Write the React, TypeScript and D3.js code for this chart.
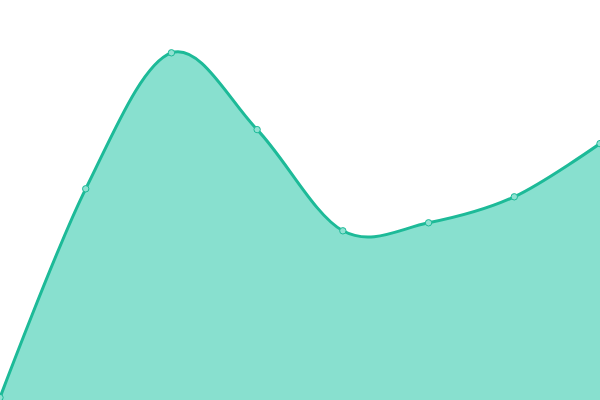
import React from "react";
import * as d3 from "d3";

const categories = ["A", "B", "C", "D", "E", "F", "G", "H"];
const values = [0.6, 52.8, 86.8, 67.6, 42.3, 44.3, 50.8, 64.1];

const W = 600;
const H = 400;

export default function App() {
  const x = d3.scalePoint<string>().domain(categories).range([0, W]);
  const y = d3.scaleLinear().domain([0, 100]).range([H, 0]);
  const data = categories.map((c, i) => ({ c, v: values[i] }));
  const curve = d3.curveCardinal.tension(0);
  const area = d3
    .area<{ c: string; v: number }>()
    .x((d) => x(d.c)!)
    .y0(H)
    .y1((d) => y(d.v))
    .curve(curve);
  const line = d3
    .line<{ c: string; v: number }>()
    .x((d) => x(d.c)!)
    .y((d) => y(d.v))
    .curve(curve);
  return (
    <svg
      width={W}
      height={H}
      style={{ position: "absolute", left: 0, top: 0, display: "block" }}
    >
      <rect width={W} height={H} fill="#ffffff" />
      <path d={area(data)!} fill="#88e0cf" />
      <path d={line(data)!} fill="none" stroke="#1dba98" strokeWidth={3} />
      {data.map((d) => (
        <circle
          key={d.c}
          cx={x(d.c)!}
          cy={y(d.v)}
          r={3.2}
          fill="#8fe2d2"
          stroke="#1dba98"
          strokeWidth={1}
        />
      ))}
    </svg>
  );
}
